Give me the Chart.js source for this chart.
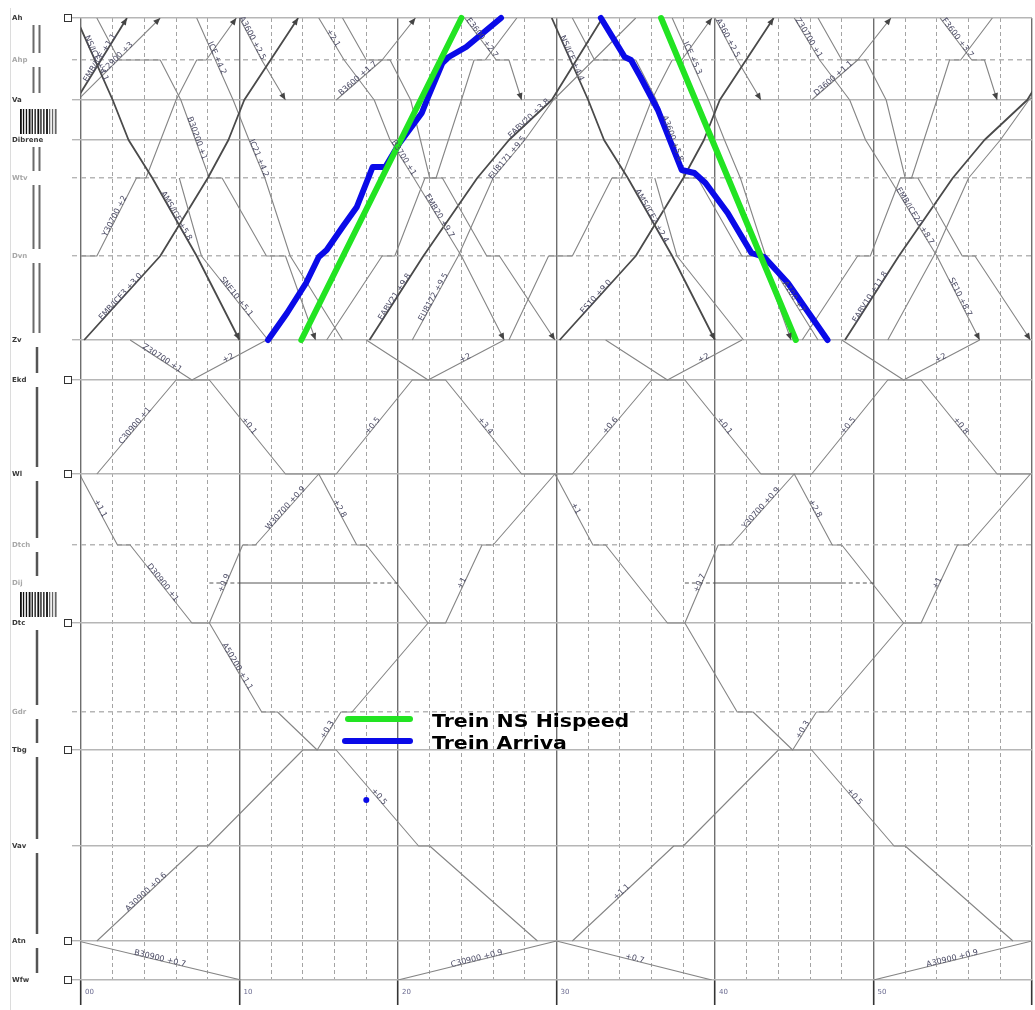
<!DOCTYPE html>
<html>
<head>
<meta charset="utf-8">
<script src="https://cdn.jsdelivr.net/npm/chart.js@4.4.0/dist/chart.umd.min.js"></script>
<style>
  html, body { margin: 0; padding: 0; background: #fff; }
  canvas { display: block; }
</style>
</head>
<body>
<canvas id="chart" width="1035" height="1010"></canvas>
<script>
// stations (top to bottom) and their position along the line
const stations = ['Ah','Ahp','Va','Dibrene','Wtv','Dvn','Zv','Ekd','Wl','Dtch','Dij','Dtc','Gdr','Tbg','Vav','Atn','Wfw'];
const stationPos = [0, 42, 82, 122, 160, 238, 322, 362, 456, 527, 565, 605, 694, 732, 828, 923, 962];
const minorStations = ['Ahp','Wtv','Dvn','Dtch','Dij','Gdr'];
const boxStations = ['Ah','Ekd','Wl','Dtc','Tbg','Atn','Wfw'];
const minuteGrid = [0,2,4,6,8,10,12,14,16,18,20,22,24,26,28,30,32,34,36,38,40,42,44,46,48,50,52,54,56,58,60];
const minuteLabels = [0,10,20,30,40,50];

// highlighted trains: [minute, position]
const greenNS1 = [[13.9,322],[24.0,0]];
const greenNS2 = [[36.6,0],[45.1,322]];
const blueArriva1 = [[11.8,322],[13.0,295],[14.2,265],[15.0,239],[15.5,232],[16.5,209],[17.4,189],[18.4,149],[19.2,149],[20.1,125],[21.5,95],[21.9,79],[22.8,45],[23.2,39],[24.3,29],[26.5,0]];
const blueArriva2 = [[32.8,0],[34.3,39],[34.7,42],[35.3,59],[36.4,92],[37.9,152],[38.7,155],[39.4,165],[40.8,195],[42.3,235],[43.1,239],[44.6,265],[47.1,322]];
const blueDot = [[18.0,782]];

// timetable paths: [minute, station]
const icDownA1 = [[-0.3,'Ah'],[2.0,'Va'],[3.0,'Dibrene'],[4.5,'Wtv'],[7.3,'Dvn'],[10.0,'Zv']];
const sneDown1 = [[6.2,'Wtv'],[7.6,'Dvn'],[11.8,'Zv']];
const icUpA1 = [[0.2,'Zv'],[5.0,'Dvn'],[8.0,'Wtv'],[9.3,'Dibrene'],[10.3,'Va'],[13.7,'Ah']];
const icUpB1 = [[-1.8,'Wtv'],[-0.3,'Va'],[2.9,'Ah']];
const icUpC1 = [[-0.2,'Va'],[5.0,'Ah']];
const sprUp1 = [[-3.0,'Zv'],[-0.5,'Dvn'],[1.0,'Dvn'],[3.5,'Wtv'],[4.1,'Wtv'],[6.0,'Va'],[7.3,'Ahp'],[7.9,'Ahp'],[9.8,'Ah']];
const sprDown1 = [[1.0,'Ah'],[2.4,'Ahp'],[5.0,'Ahp'],[6.3,'Va'],[8.1,'Wtv'],[8.9,'Wtv'],[11.7,'Dvn'],[12.9,'Dvn'],[14.8,'Zv']];
const icDownB1 = [[7.3,'Ah'],[9.6,'Va'],[10.6,'Dibrene'],[11.6,'Wtv'],[13.2,'Dvn'],[16.5,'Zv']];
const shortDown1 = [[10.0,'Ah'],[11.4,'Ahp'],[12.9,'Va']];
const upVa1 = [[16.1,'Va'],[19.0,'Ahp'],[21.1,'Ah']];
const icDownC1 = [[15.0,'Ah'],[16.6,'Ahp'],[18.5,'Va'],[19.5,'Dibrene'],[21.0,'Wtv'],[24.0,'Dvn'],[26.7,'Zv']];
const sprDown2 = [[16.5,'Ah'],[18.0,'Ahp'],[19.5,'Ahp'],[20.8,'Va'],[22.0,'Wtv'],[22.8,'Wtv'],[25.6,'Dvn'],[26.4,'Dvn'],[29.9,'Zv']];
const sprUp2 = [[15.5,'Zv'],[19.0,'Dvn'],[19.8,'Dvn'],[21.7,'Wtv'],[22.4,'Wtv'],[24.0,'Va'],[24.8,'Ahp'],[25.5,'Ahp'],[27.5,'Ah']];
const icUpD1 = [[18.2,'Zv'],[21.6,'Dvn'],[25.0,'Wtv'],[27.0,'Dibrene'],[29.7,'Va'],[32.9,'Ah']];
const icUpE1 = [[20.9,'Zv'],[23.8,'Dvn'],[26.0,'Wtv'],[28.0,'Dibrene'],[29.8,'Va'],[35.0,'Ah']];
const shortDown2 = [[24.2,'Ah'],[26.2,'Ahp'],[27.0,'Ahp'],[27.8,'Va']];

const icDownA2 = [[29.7,'Ah'],[32.0,'Va'],[33.0,'Dibrene'],[34.5,'Wtv'],[37.3,'Dvn'],[40.0,'Zv']];
const sneDown2 = [[36.2,'Wtv'],[37.6,'Dvn'],[41.8,'Zv']];
const icUpA2 = [[30.2,'Zv'],[35.0,'Dvn'],[38.0,'Wtv'],[39.3,'Dibrene'],[40.3,'Va'],[43.7,'Ah']];
const sprUp3 = [[27.0,'Zv'],[29.5,'Dvn'],[31.0,'Dvn'],[33.5,'Wtv'],[34.1,'Wtv'],[36.0,'Va'],[37.3,'Ahp'],[37.9,'Ahp'],[39.8,'Ah']];
const sprDown3 = [[31.0,'Ah'],[32.4,'Ahp'],[35.0,'Ahp'],[36.3,'Va'],[38.1,'Wtv'],[38.9,'Wtv'],[41.7,'Dvn'],[42.9,'Dvn'],[44.8,'Zv']];
const icDownB2 = [[37.3,'Ah'],[39.6,'Va'],[40.6,'Dibrene'],[41.6,'Wtv'],[43.2,'Dvn'],[46.5,'Zv']];
const shortDown3 = [[40.0,'Ah'],[41.4,'Ahp'],[42.9,'Va']];
const upVa2 = [[46.1,'Va'],[49.0,'Ahp'],[51.1,'Ah']];
const icDownC2 = [[45.0,'Ah'],[46.6,'Ahp'],[48.5,'Va'],[49.5,'Dibrene'],[51.0,'Wtv'],[54.0,'Dvn'],[56.7,'Zv']];
const sprDown4 = [[46.5,'Ah'],[48.0,'Ahp'],[49.5,'Ahp'],[50.8,'Va'],[52.0,'Wtv'],[52.8,'Wtv'],[55.6,'Dvn'],[56.4,'Dvn'],[59.9,'Zv']];
const sprUp4 = [[45.5,'Zv'],[49.0,'Dvn'],[49.8,'Dvn'],[51.7,'Wtv'],[52.4,'Wtv'],[54.0,'Va'],[54.8,'Ahp'],[55.5,'Ahp'],[57.5,'Ah']];
const icUpD2 = [[48.2,'Zv'],[51.6,'Dvn'],[55.0,'Wtv'],[57.0,'Dibrene'],[59.7,'Va'],[62.9,'Ah']];
const icUpE2 = [[50.9,'Zv'],[53.8,'Dvn'],[56.0,'Wtv'],[58.0,'Dibrene'],[59.8,'Va'],[65.0,'Ah']];
const shortDown4 = [[54.2,'Ah'],[56.2,'Ahp'],[57.0,'Ahp'],[57.8,'Va']];

const shuttleV1 = [[3.1,'Zv'],[7.0,'Ekd'],[11.7,'Zv']];
const shuttleV2 = [[18.0,'Zv'],[21.9,'Ekd'],[26.7,'Zv']];
const shuttleV3 = [[33.1,'Zv'],[37.0,'Ekd'],[41.7,'Zv']];
const shuttleV4 = [[48.0,'Zv'],[51.9,'Ekd'],[56.7,'Zv']];
const shuttleT = [[1.0,'Wl'],[6.0,'Ekd'],[8.1,'Ekd'],[12.9,'Wl'],[16.1,'Wl'],[20.9,'Ekd'],[23.0,'Ekd'],[27.8,'Wl'],[31.0,'Wl'],[36.0,'Ekd'],[38.1,'Ekd'],[42.9,'Wl'],[46.1,'Wl'],[50.9,'Ekd'],[53.0,'Ekd'],[57.8,'Wl'],[61.0,'Wl']];
const lineA1 = [[-0.1,'Wl'],[2.3,'Dtch'],[3.1,'Dtch'],[7.0,'Dtc'],[8.1,'Dtc'],[11.4,'Gdr'],[12.4,'Gdr'],[14.9,'Tbg'],[16.4,'Gdr'],[17.1,'Gdr'],[21.9,'Dtc'],[23.0,'Dtc'],[25.3,'Dtch'],[26.0,'Dtch'],[29.9,'Wl']];
const lineA2 = [[29.9,'Wl'],[32.3,'Dtch'],[33.1,'Dtch'],[37.0,'Dtc'],[38.1,'Dtc'],[41.4,'Gdr'],[42.4,'Gdr'],[44.9,'Tbg'],[46.4,'Gdr'],[47.1,'Gdr'],[51.9,'Dtc'],[53.0,'Dtc'],[55.3,'Dtch'],[56.0,'Dtch'],[59.9,'Wl']];
const lineB1 = [[8.1,'Dtc'],[10.2,'Dtch'],[11.0,'Dtch'],[15.0,'Wl'],[17.4,'Dtch'],[18.0,'Dtch'],[21.9,'Dtc']];
const lineB2 = [[38.1,'Dtc'],[40.2,'Dtch'],[41.0,'Dtch'],[45.0,'Wl'],[47.4,'Dtch'],[48.0,'Dtch'],[51.9,'Dtc']];
const lineC1 = [[1.0,'Atn'],[7.4,'Vav'],[8.0,'Vav'],[14.0,'Tbg'],[16.1,'Tbg'],[21.3,'Vav'],[22.0,'Vav'],[28.8,'Atn']];
const lineC2 = [[31.0,'Atn'],[37.4,'Vav'],[38.0,'Vav'],[44.0,'Tbg'],[46.1,'Tbg'],[51.3,'Vav'],[52.0,'Vav'],[58.8,'Atn']];
const lineD1 = [[-0.2,'Atn'],[10.1,'Wfw']];
const lineE1 = [[20.0,'Wfw'],[30.0,'Atn']];
const lineD2 = [[30.0,'Atn'],[39.8,'Wfw']];
const lineE2 = [[50.0,'Wfw'],[60.0,'Atn']];
const dijDash = [[8.1,'Dij'],[10.0,'Dij'],[18.0,'Dij'],[20.0,'Dij'],[38.1,'Dij'],[40.0,'Dij'],[48.0,'Dij'],[50.0,'Dij']];
const dijSolid = [[10.0,'Dij'],[18.0,'Dij'],[40.0,'Dij'],[48.0,'Dij']];

const paths = {icDownA1, sneDown1, icUpA1, icUpB1, icUpC1, sprUp1, sprDown1, icDownB1, shortDown1, upVa1, icDownC1, sprDown2, sprUp2, icUpD1, icUpE1, shortDown2,
  icDownA2, sneDown2, icUpA2, sprUp3, sprDown3, icDownB2, shortDown3, upVa2, icDownC2, sprDown4, sprUp4, icUpD2, icUpE2, shortDown4,
  shuttleV1, shuttleV2, shuttleV3, shuttleV4, shuttleT, lineA1, lineA2, lineB1, lineB2, lineC1, lineC2, lineD1, lineE1, lineD2, lineE2};
const heavyPaths = ['icDownA1','icUpA1','icUpB1','icDownA2','icUpA2','icUpD1','icUpD2'];
const arrowPaths = ['icDownA1','icDownA2','icUpA1','icUpB1','icUpC1','sprUp1','sprDown1','shortDown1','upVa1','icDownC1','sprDown2','shortDown2',
  'icUpA2','sprUp3','sprDown3','shortDown3','upVa2','icDownC2','sprDown4','shortDown4'];

// texts along the paths: [path, segment, text]
const pathLabels = [
  ['icDownA1',0,'NS/ICE +4.1'],['icDownA1',3,'AMS/ICE +5.8'],['sneDown1',1,'SNE10 +5.1'],
  ['icUpA1',0,'EMB/ICE3 +3.0'],['icUpB1',1,'EMB/ICE +1.1'],['icUpC1',0,'C2900 +3'],
  ['sprUp1',2,'Y30700 +2'],['sprDown1',3,'B30200 +1'],['icDownB1',0,'ICE +4.2'],['icDownB1',2,'IC21 +4.2'],
  ['shortDown1',0,'A3600 +2.5'],['upVa1',0,'B3600 +1.7'],['icDownC1',0,'+2.1'],['icDownC1',3,'B3700 +1'],['icDownC1',4,'EMB20 +9.7'],
  ['icUpD1',0,'EABV21 +9.8'],['icUpD1',3,'EABV20 +3.8'],['icUpE1',0,'EU8172 +9.5'],['icUpE1',2,'EU8171 +9.5'],['shortDown2',0,'E3600 +2.7'],
  ['icDownA2',0,'NS/ICE +4.4'],['icDownA2',3,'AMS/ICE2 +2.4'],['icUpA2',0,'ES10 +9.0'],['sprDown3',3,'A3600 +5.8'],
  ['icDownB2',0,'ICE +5.3'],['icDownB2',4,'A100 +7'],['shortDown3',0,'A360 +2.5'],['upVa2',0,'D3600 +1.1'],
  ['icDownC2',0,'Z30700 +1'],['icDownC2',4,'EMB/ICE20 +8.7'],['icDownC2',5,'SE10 +8.7'],['icUpD2',0,'EABV10 +11.8'],['shortDown4',0,'F3600 +3.7'],
  ['shuttleV1',0,'Z30700 +1'],['shuttleV1',1,'+2'],['shuttleV2',1,'+2'],['shuttleV3',1,'+2'],['shuttleV4',1,'+2'],
  ['shuttleT',0,'C30900 +1'],['shuttleT',2,'+0.1'],['shuttleT',4,'+0.5'],['shuttleT',6,'+3.4'],
  ['shuttleT',8,'+0.6'],['shuttleT',10,'+0.1'],['shuttleT',12,'+0.5'],['shuttleT',14,'+0.8'],
  ['lineA1',0,'+1.1'],['lineA1',2,'D30900 +1'],['lineA1',4,'A50200 +1.1'],['lineA1',7,'+0.3'],['lineA1',11,'+1'],
  ['lineA2',0,'+1'],['lineA2',7,'+0.3'],['lineA2',11,'+1'],
  ['lineB1',0,'+0.9'],['lineB1',2,'W30700 +0.9'],['lineB1',3,'+2.8'],
  ['lineB2',0,'+0.7'],['lineB2',2,'Y30700 +0.9'],['lineB2',3,'+2.8'],
  ['lineC1',0,'A30900 +0.6'],['lineC1',4,'+0.5'],['lineC2',0,'+1.1'],['lineC2',4,'+0.5'],
  ['lineD1',0,'B30900 +0.7'],['lineE1',0,'C30900 +0.9'],['lineD2',0,'+0.7'],['lineE2',0,'A30900 +0.9']
];

const posOf = s => typeof s === 'string' ? stationPos[stations.indexOf(s)] : s;
const toXY = p => p.map(([t, s]) => ({x: t, y: posOf(s)}));

const base = {showLine: true, pointRadius: 0, pointHoverRadius: 0, fill: false, tension: 0, borderJoinStyle: 'round'};
const datasets = [
  {...base, label: 'Trein NS Hispeed', data: toXY(greenNS1), borderColor: '#22e422', borderWidth: 6, borderCapStyle: 'round', clip: 6},
  {...base, label: 'Trein NS Hispeed 2', data: toXY(greenNS2), borderColor: '#22e422', borderWidth: 6, borderCapStyle: 'round', clip: 6},
  {...base, label: 'Trein Arriva', data: toXY(blueArriva1), borderColor: '#0a0ae8', borderWidth: 6, borderCapStyle: 'round', clip: 6},
  {...base, label: 'Trein Arriva 2', data: toXY(blueArriva2), borderColor: '#0a0ae8', borderWidth: 6, borderCapStyle: 'round', clip: 6},
  {...base, label: 'Arriva punt', data: toXY(blueDot), showLine: false, pointRadius: 3, backgroundColor: '#0a0ae8', borderWidth: 0},
  {...base, label: 'Dij', data: toXY(dijSolid), borderColor: '#555', borderWidth: 1, segment: {borderColor: c => c.p0DataIndex % 2 === 0 ? '#555' : 'rgba(0,0,0,0)'}},
  {...base, label: 'Dij stippel', data: toXY(dijDash), borderColor: '#555', borderWidth: 1, borderDash: [4, 3], segment: {borderColor: c => c.p0DataIndex % 2 === 0 ? '#555' : 'rgba(0,0,0,0)'}}
];
Object.keys(paths).forEach(name => {
  const heavy = heavyPaths.includes(name);
  datasets.push({...base, label: name, data: toXY(paths[name]),
    borderColor: heavy ? '#4a4a4a' : '#858585', borderWidth: heavy ? 1.8 : 1.1});
});

const decor = {
  id: 'decor',
  afterDatasetsDraw(chart) {
    const {ctx, chartArea: a, scales: {x, y}} = chart;
    ctx.save();
    ctx.beginPath();
    ctx.rect(a.left, a.top - 3, a.right - a.left, a.bottom - a.top + 3);
    ctx.clip();
    // arrow heads at the ends of some paths
    ctx.fillStyle = '#444';
    arrowPaths.forEach(name => {
      const p = paths[name], n = p.length;
      const x1 = x.getPixelForValue(p[n-1][0]), y1 = y.getPixelForValue(posOf(p[n-1][1]));
      const x0 = x.getPixelForValue(p[n-2][0]), y0 = y.getPixelForValue(posOf(p[n-2][1]));
      const ang = Math.atan2(y1 - y0, x1 - x0);
      ctx.save();
      ctx.translate(x1, y1);
      ctx.rotate(ang);
      ctx.beginPath();
      ctx.moveTo(0, 0); ctx.lineTo(-7, -3); ctx.lineTo(-7, 3); ctx.closePath();
      ctx.fill();
      ctx.restore();
    });
    // train numbers along the lines
    ctx.font = '8px "DejaVu Sans"';
    ctx.fillStyle = '#4c4c66';
    ctx.textAlign = 'center';
    ctx.textBaseline = 'bottom';
    pathLabels.forEach(([name, seg, text]) => {
      const p = paths[name];
      if (!p || seg + 1 >= p.length) return;
      const x0 = x.getPixelForValue(p[seg][0]), y0 = y.getPixelForValue(posOf(p[seg][1]));
      const x1 = x.getPixelForValue(p[seg+1][0]), y1 = y.getPixelForValue(posOf(p[seg+1][1]));
      let ang = Math.atan2(y1 - y0, x1 - x0);
      if (ang > Math.PI / 2) ang -= Math.PI;
      if (ang < -Math.PI / 2) ang += Math.PI;
      ctx.save();
      ctx.translate((x0 + x1) / 2, (y0 + y1) / 2);
      ctx.rotate(ang);
      ctx.fillText(text, 0, 2);
      ctx.restore();
    });
    ctx.restore();
  },
  afterDraw(chart) {
    const {ctx, chartArea: a, scales: {x, y}} = chart;
    ctx.save();
    // thin frame line left
    ctx.strokeStyle = '#dcdcdc';
    ctx.lineWidth = 1;
    ctx.beginPath(); ctx.moveTo(10.5, 8); ctx.lineTo(10.5, 1010); ctx.stroke();
    // station boxes
    ctx.strokeStyle = '#333';
    ctx.fillStyle = '#fff';
    boxStations.forEach(s => {
      const py = Math.round(y.getPixelForValue(posOf(s)));
      ctx.fillRect(64.5, py - 3.5, 7, 7);
      ctx.strokeRect(64.5, py - 3.5, 7, 7);
    });
    // track bars between stations
    const zvIdx = stations.indexOf('Zv');
    for (let i = 0; i < stations.length - 1; i++) {
      const y0 = y.getPixelForValue(stationPos[i]), y1 = y.getPixelForValue(stationPos[i+1]);
      const pair = stations[i] + '-' + stations[i+1];
      if (pair === 'Va-Dibrene' || pair === 'Dij-Dtc') {
        const top = y0 + 9, bot = y1 - 6;
        for (let k = 0; k < 13; k++) {
          ctx.fillStyle = k > 9 ? '#666' : '#111';
          ctx.fillRect(20 + k * 2.9, top, k % 3 === 0 ? 1.8 : 1.3, bot - top);
        }
        continue;
      }
      ctx.strokeStyle = '#6a6a6a';
      ctx.lineWidth = 2;
      ctx.beginPath();
      if (i < zvIdx) {
        ctx.moveTo(33.5, y0 + 7); ctx.lineTo(33.5, y1 - 7);
        ctx.moveTo(39.5, y0 + 7); ctx.lineTo(39.5, y1 - 7);
      } else {
        ctx.lineWidth = 2.5;
        ctx.strokeStyle = '#555';
        ctx.moveTo(37, y0 + 7); ctx.lineTo(37, y1 - 7);
      }
      ctx.stroke();
    }
    // minute labels next to the hour ticks
    ctx.font = '7px "DejaVu Sans"';
    ctx.fillStyle = '#6a6a90';
    ctx.textAlign = 'left';
    ctx.textBaseline = 'middle';
    minuteLabels.forEach(m => {
      ctx.fillText(m === 0 ? '00' : String(m), x.getPixelForValue(m) + 4, a.bottom + 12);
    });
    // legend
    const legendItems = [['Trein NS Hispeed', '#22e422', 348, 719], ['Trein Arriva', '#0a0ae8', 345, 741]];
    ctx.lineCap = 'round';
    ctx.lineWidth = 6;
    ctx.font = 'bold 18px "DejaVu Sans"';
    ctx.fillStyle = '#000';
    legendItems.forEach(([text, color, lx, ly]) => {
      ctx.strokeStyle = color;
      ctx.beginPath(); ctx.moveTo(lx, ly); ctx.lineTo(410, ly); ctx.stroke();
      ctx.save();
      ctx.translate(432, ly + 3);
      ctx.scale(1.14, 1);
      ctx.fillText(text, 0, 0);
      ctx.restore();
    });
    ctx.restore();
  }
};

new Chart(document.getElementById('chart').getContext('2d'), {
  type: 'scatter',
  data: {datasets},
  options: {
    responsive: false,
    animation: false,
    devicePixelRatio: 1,
    events: [],
    layout: {padding: {left: 12, top: 18, right: 1, bottom: 0}},
    plugins: {legend: {display: false}, tooltip: {enabled: false}},
    scales: {
      x: {
        type: 'linear', min: 0, max: 60,
        afterBuildTicks: s => { s.ticks = minuteGrid.map(v => ({value: v})); },
        afterFit: s => { s.height = 30; },
        ticks: {display: false},
        grid: {
          color: c => c.tick && c.tick.value % 10 === 0 ? '#6e6e6e' : '#a4a4a4',
          lineWidth: c => c.tick && c.tick.value % 10 === 0 ? 1.4 : 1,
          tickLength: 25,
          tickWidth: 1.6,
          tickColor: c => c.tick && c.tick.value % 10 === 0 ? '#333' : 'rgba(0,0,0,0)'
        },
        border: {display: false, dash: c => c.tick && c.tick.value % 10 !== 0 ? [4, 3] : []}
      },
      y: {
        type: 'linear', reverse: true, min: 0, max: 962,
        afterBuildTicks: s => { s.ticks = stationPos.map(v => ({value: v})); },
        afterFit: s => { s.width = 69; },
        ticks: {
          autoSkip: false,
          crossAlign: 'far',
          padding: 4,
          font: {family: 'DejaVu Sans', size: 7, weight: 'bold'},
          color: c => minorStations.includes(stations[c.index]) ? '#a8a8a8' : '#3a3a3a',
          callback: v => stations[stationPos.indexOf(v)]
        },
        grid: {
          color: c => stations[c.index] === 'Dij' ? 'rgba(0,0,0,0)' : '#b6b6b6',
          lineWidth: 1.4,
          tickLength: 9,
          tickColor: c => stations[c.index] === 'Dij' ? 'rgba(0,0,0,0)' : '#b6b6b6',
          tickBorderDash: c => minorStations.includes(stations[c.index]) ? [5, 4] : []
        },
        border: {display: false, dash: c => minorStations.includes(stations[c.index]) ? [5, 4] : []}
      }
    }
  },
  plugins: [decor]
});
</script>
</body>
</html>
